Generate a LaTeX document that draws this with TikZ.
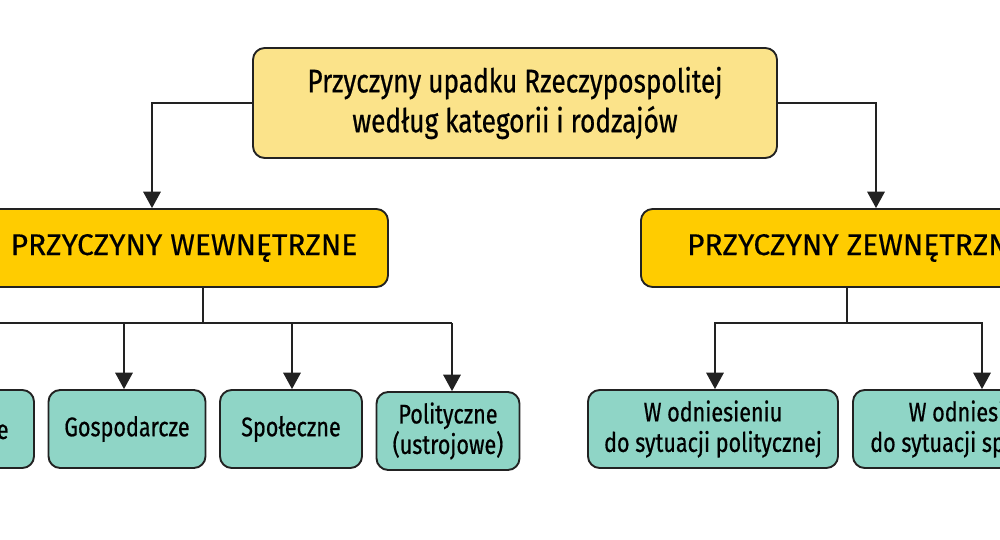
\documentclass[tikz,border=0pt]{standalone}
\usepackage{fontspec}
\setmainfont{Fira Sans}
\newfontfamily\narrowfont[FakeStretch=0.8,FakeBold=0.6]{Fira Sans}
\newfontfamily\catfont[FakeBold=0.4]{Fira Sans}
\usetikzlibrary{arrows.meta,positioning}
\definecolor{topfill}{HTML}{FBE38A}
\definecolor{catfill}{HTML}{FFCC00}
\definecolor{subfill}{HTML}{8FD5C6}
\definecolor{edge}{HTML}{222222}
\tikzset{
  box/.style={draw=edge, line width=1.6pt, rounded corners=10pt, align=center, inner sep=0pt},
  topbox/.style={box, fill=topfill, minimum width=524*0.03cm, minimum height=110*0.03cm, font=\narrowfont\fontsize{28}{34}\selectfont},
  catbox/.style={box, fill=catfill, minimum height=78*0.03cm, font=\catfont\fontsize{25.5}{29}\selectfont},
  subbox/.style={box, fill=subfill, minimum height=78*0.03cm, font=\narrowfont\fontsize{23}{26}\selectfont},
  link/.style={draw=edge, line width=1.2pt},
  arr/.style={link, -{Triangle[length=14pt,width=15pt]}}
}
\begin{document}
\begin{tikzpicture}[x=0.03cm,y=-0.03cm]
\useasboundingbox (0,0) rectangle (1000,540);
\clip (0,0) rectangle (1000,540);

\node[topbox] (top) at (515,103) {Przyczyny upadku Rzeczypospolitej\\według kategorii i rodzajów};

\node[catbox, minimum width=408*0.03cm] (wew) at (184,248) {PRZYCZYNY WEWNĘTRZNE};
\node[catbox, minimum width=410*0.03cm, anchor=west] (zew) at (640,248) {\hspace*{17pt}PRZYCZYNY ZEWNĘTRZNE\hfill};

\node[subbox, minimum width=150*0.03cm] (s1) at (-41,429) {Kulturowe};
\node[subbox, minimum width=157*0.03cm] (s2) at (127,429) {Gospodarcze};
\node[subbox, minimum width=142*0.03cm] (s3) at (291,429) {Społeczne};
\node[subbox, minimum width=143*0.03cm] (s4) at (448,431) {Polityczne\\(ustrojowe)};
\node[subbox, minimum width=250*0.03cm] (s5) at (713,429) {W odniesieniu\\do sytuacji politycznej};
\node[subbox, minimum width=250*0.03cm] (s6) at (978,429) {W odniesieniu\\do sytuacji społecznej};

% top level
\draw[arr] (top.west) -| (wew.north -| 152,0);
\draw[arr] (top.east) -| (zew.north -| 876,0);

% internal causes
\coordinate (wj) at (203,323);
\draw[link] (wew.south -| wj) -- (wj);
\draw[link] (-10,323) -- (452,323);
\draw[arr] (124,323) -- (s2.north -| 124,0);
\draw[arr] (292,323) -- (s3.north -| 292,0);
\draw[arr] (452,323) -- (s4.north -| 452,0);

% external causes
\coordinate (zj) at (847,323);
\draw[link] (zew.south -| zj) -- (zj);
\draw[arr] (zj) -| (s5.north -| 715,0);
\draw[arr] (zj) -| (s6.north -| 982,0);
\end{tikzpicture}
\end{document}
